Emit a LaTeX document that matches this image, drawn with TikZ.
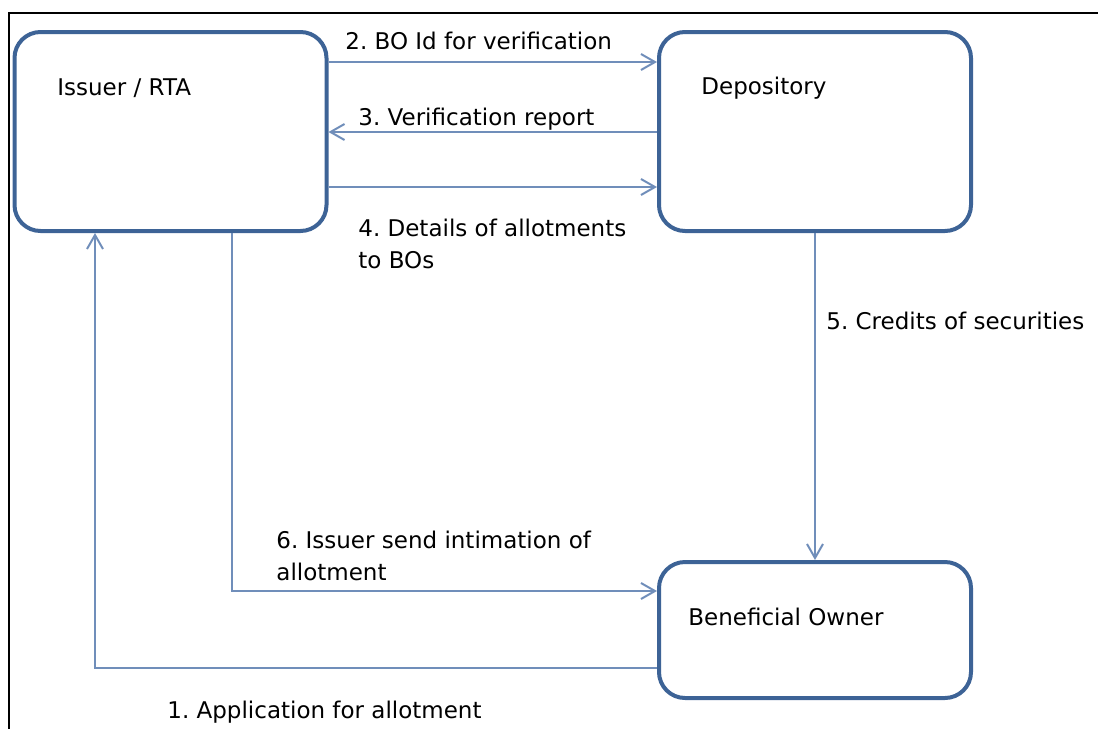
\documentclass[tikz,border=0pt]{standalone}
\usepackage{fontspec}
\setmainfont{DejaVu Sans}
\usetikzlibrary{arrows.meta}
\definecolor{boxblue}{RGB}{61,99,150}
\definecolor{linkblue}{RGB}{112,142,186}
\tikzset{
  party/.style={draw=boxblue,line width=2pt,rounded corners=13pt,fill=white,
    inner sep=0pt,minimum width=156pt},
  flow/.style={draw=linkblue,line width=1pt,-{Straight Barb[length=7pt,width=8pt]}},
  txt/.style={inner sep=0pt,anchor=west,align=left}
}
\frenchspacing
\begin{document}
\begin{tikzpicture}[x=0.5pt,y=-0.5pt,font=\fontsize{11.5}{16}\selectfont]
	\useasboundingbox (0,0) rectangle (1098,729);
	\draw[line width=1pt] (1098,13) -- (9,13) -- (9,729);
	% the three parties
	\node[party,minimum height=99.5pt] (iss) at (170.5,131.5) {};
	\node[party,minimum height=99.5pt] (dep) at (815,131.5) {};
	\node[party,minimum height=68pt] (bo) at (815,630) {};
	\node[txt] (issT) at (57,88) {Issuer / RTA};
	\node[txt] (depT) at (701,88) {Depository};
	\node[txt] (boT) at (688,617) {Beneficial Owner};
	% rows and columns of the connectors
	\path (0,62) coordinate (k2)
		(0,132) coordinate (k3)
		(0,187) coordinate (k4)
		(232,591) coordinate (k6)
		(95,668) coordinate (k1);
	\draw[flow] (iss.east |- k2) -- (dep.west |- k2);
	\draw[flow] (dep.west |- k3) -- (iss.east |- k3);
	\draw[flow] (iss.east |- k4) -- (dep.west |- k4);
	\draw[flow] (dep.south) -- (bo.north);
	\draw[flow] (iss.south -| k6) |- (bo.west |- k6);
	\draw[flow] (bo.west |- k1) -| (iss.south -| k1);
	\foreach \n/\x/\y/\t in {l2/345/41/{2. BO Id for verification},
		l3/358/119/{3. Verification report},
		l4/358/244/{4. Details of allotments\\to BOs},
		l5/826/321/{5. Credits of securities},
		l6/276/556/{6. Issuer send intimation of\\allotment},
		l1/167/712/{1. Application for allotment}}{
		\node[txt] (\n) at (\x,\y) {\t};
	}
\end{tikzpicture}
\end{document}
